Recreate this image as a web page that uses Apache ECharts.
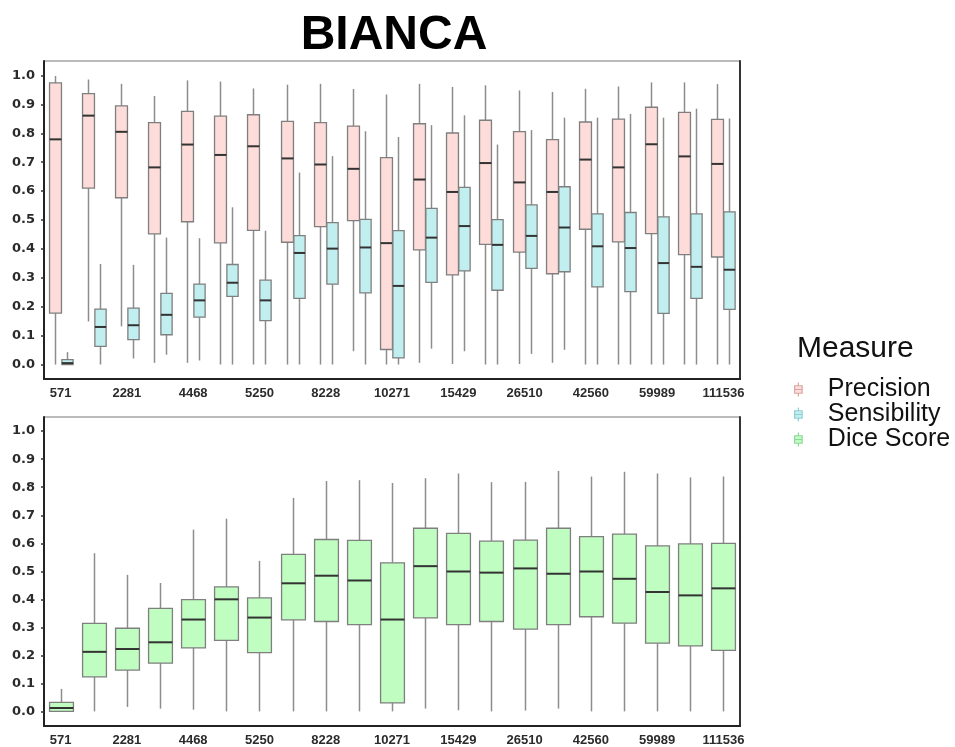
<!DOCTYPE html>
<html>
<head>
<meta charset="utf-8">
<script src="https://cdn.jsdelivr.net/npm/echarts@6/dist/echarts.min.js"></script>
<style>
  html, body { margin: 0; padding: 0; background: #ffffff; }
  #chart { width: 955px; height: 747px; }
</style>
</head>
<body>
<div id="chart"></div>
<script>
// Categories (only every other one is labelled in the reference)
const categories = ['571', '', '2281', '', '4468', '', '5250', '', '8228', '', '10271', '',
                    '15429', '', '26510', '', '42560', '', '59989', '', '111536'];
const yTicks = [0, 0.1, 0.2, 0.3, 0.4, 0.5, 0.6, 0.7, 0.8, 0.9, 1.0];

// Each entry: [lower whisker, Q1, median, Q3, upper whisker]
const precision = [
  [0.000, 0.178, 0.779, 0.974, 0.998],
  [0.149, 0.610, 0.861, 0.937, 0.986],
  [0.132, 0.577, 0.805, 0.895, 0.971],
  [0.006, 0.452, 0.682, 0.837, 0.929],
  [0.006, 0.494, 0.761, 0.876, 0.983],
  [0.000, 0.421, 0.725, 0.859, 0.979],
  [0.000, 0.464, 0.755, 0.864, 0.955],
  [0.000, 0.423, 0.713, 0.841, 0.968],
  [0.000, 0.477, 0.692, 0.837, 0.971],
  [0.046, 0.498, 0.677, 0.825, 0.953],
  [0.000, 0.052, 0.420, 0.716, 0.934],
  [0.006, 0.397, 0.640, 0.833, 0.971],
  [0.002, 0.310, 0.597, 0.801, 0.960],
  [0.000, 0.416, 0.697, 0.845, 0.966],
  [0.002, 0.389, 0.630, 0.806, 0.948],
  [0.006, 0.314, 0.597, 0.778, 0.943],
  [0.000, 0.468, 0.709, 0.839, 0.954],
  [0.000, 0.424, 0.682, 0.849, 0.962],
  [0.000, 0.453, 0.762, 0.890, 0.976],
  [0.000, 0.380, 0.720, 0.872, 0.976],
  [0.000, 0.372, 0.694, 0.848, 0.970]
];
const sensibility = [
  [0.000, 0.000, 0.005, 0.017, 0.043],
  [0.000, 0.063, 0.130, 0.192, 0.348],
  [0.021, 0.086, 0.136, 0.195, 0.345],
  [0.034, 0.103, 0.172, 0.246, 0.439],
  [0.014, 0.164, 0.222, 0.278, 0.437],
  [0.000, 0.236, 0.283, 0.346, 0.544],
  [0.000, 0.152, 0.222, 0.292, 0.463],
  [0.000, 0.229, 0.386, 0.446, 0.664],
  [0.000, 0.278, 0.401, 0.491, 0.721],
  [0.000, 0.248, 0.405, 0.502, 0.807],
  [0.000, 0.023, 0.272, 0.463, 0.787],
  [0.055, 0.284, 0.439, 0.540, 0.828],
  [0.046, 0.324, 0.479, 0.613, 0.862],
  [0.000, 0.257, 0.414, 0.501, 0.761],
  [0.037, 0.333, 0.445, 0.552, 0.811],
  [0.051, 0.321, 0.474, 0.615, 0.854],
  [0.000, 0.269, 0.409, 0.521, 0.854],
  [0.000, 0.252, 0.403, 0.526, 0.867],
  [0.000, 0.177, 0.351, 0.511, 0.854],
  [0.000, 0.229, 0.338, 0.521, 0.885],
  [0.000, 0.191, 0.328, 0.528, 0.851]
];
const dice = [
  [0.000, 0.002, 0.014, 0.034, 0.082],
  [0.002, 0.125, 0.214, 0.315, 0.565],
  [0.018, 0.149, 0.224, 0.298, 0.488],
  [0.012, 0.174, 0.248, 0.369, 0.459],
  [0.008, 0.228, 0.329, 0.400, 0.649],
  [0.002, 0.255, 0.401, 0.445, 0.688],
  [0.002, 0.211, 0.336, 0.406, 0.538],
  [0.002, 0.328, 0.458, 0.561, 0.762],
  [0.002, 0.322, 0.485, 0.614, 0.822],
  [0.002, 0.311, 0.468, 0.611, 0.825],
  [0.002, 0.032, 0.329, 0.531, 0.815],
  [0.012, 0.335, 0.519, 0.654, 0.832],
  [0.006, 0.311, 0.500, 0.636, 0.849],
  [0.002, 0.322, 0.496, 0.608, 0.818],
  [0.005, 0.295, 0.511, 0.612, 0.819],
  [0.012, 0.311, 0.492, 0.654, 0.858],
  [0.002, 0.339, 0.500, 0.624, 0.838],
  [0.002, 0.316, 0.474, 0.633, 0.855],
  [0.002, 0.245, 0.427, 0.591, 0.849],
  [0.002, 0.235, 0.415, 0.598, 0.835],
  [0.002, 0.219, 0.440, 0.600, 0.838]
];

const seriesNames = ['Precision', 'Sensibility', 'Dice Score'];
const fillColors = ['#fddcd9', '#c1eff0', '#c0fdc0'];
const legendBorders = ['#d9a6a1', '#8fcfd2', '#8fd69a'];

function withIndex(arr) {
  return arr.map(function (d, i) { return [i].concat(d); });
}

function makeRender(offsetFrac, widthFrac, fill) {
  return function (params, api) {
    const x = api.value(0);
    const lo = api.coord([x, api.value(1)]);
    const q1 = api.coord([x, api.value(2)]);
    const med = api.coord([x, api.value(3)]);
    const q3 = api.coord([x, api.value(4)]);
    const hi = api.coord([x, api.value(5)]);
    const band = api.size([1, 0])[0];
    const cx = Math.round(lo[0] + offsetFrac * band) + 0.5;
    const w = widthFrac * band;
    const whisker = { stroke: '#8c8c8c', lineWidth: 1.5 };
    return {
      type: 'group',
      children: [
        { type: 'line', shape: { x1: cx, y1: hi[1], x2: cx, y2: q3[1] }, style: whisker },
        { type: 'line', shape: { x1: cx, y1: q1[1], x2: cx, y2: lo[1] }, style: whisker },
        { type: 'rect', shape: { x: cx - w / 2, y: q3[1], width: w, height: Math.max(q1[1] - q3[1], 1) },
          style: { fill: fill, stroke: '#7f7f7f', lineWidth: 1.3 } },
        { type: 'line', shape: { x1: cx - w / 2, y1: med[1], x2: cx + w / 2, y2: med[1] },
          style: { stroke: '#333333', lineWidth: 2 } }
      ]
    };
  };
}

const xLabelFont = { fontFamily: 'Liberation Sans, Arial, sans-serif', fontWeight: 'bold', fontSize: 13, color: '#2b2b2b' };
const yLabelFont = { fontFamily: 'DejaVu Sans, Verdana, sans-serif', fontWeight: 'bold', fontSize: 13, color: '#2b2b2b' };

function xAxisFor(gridIndex) {
  return {
    type: 'category', gridIndex: gridIndex, data: categories, boundaryGap: true,
    axisLine: { onZero: false, lineStyle: { color: '#222', width: 2 } },
    axisTick: { alignWithLabel: true, length: 4, lineStyle: { color: '#333', width: 1.5 } },
    axisLabel: Object.assign({ interval: 0, margin: 8 }, xLabelFont),
    splitLine: { show: false }
  };
}
function yAxisFor(gridIndex) {
  return {
    type: 'value', gridIndex: gridIndex, min: -0.05, max: 1.05,
    axisLine: { show: true, onZero: false, lineStyle: { color: '#222', width: 2 } },
    axisTick: { show: true, customValues: yTicks, length: 3, lineStyle: { color: '#333', width: 1.5 } },
    axisLabel: Object.assign({ customValues: yTicks, margin: 9, formatter: function (v) { return v.toFixed(1); } }, yLabelFont),
    splitLine: { show: false }
  };
}
function rightAxisFor(gridIndex) {
  return {
    type: 'value', gridIndex: gridIndex, position: 'right', min: -0.05, max: 1.05,
    axisLine: { show: true, onZero: false, lineStyle: { color: '#333', width: 2 } },
    axisTick: { show: false }, axisLabel: { show: false }, splitLine: { show: false }
  };
}

const chart = echarts.init(document.getElementById('chart'), null, { renderer: 'canvas' });

const option = {
  backgroundColor: '#ffffff',
  animation: false,
  title: [
    { text: 'BIANCA', left: 389, top: 7, textAlign: 'center',
      textStyle: { fontFamily: 'Liberation Sans, Arial, sans-serif', fontWeight: 'bold', fontSize: 48, color: '#000' } },
    { text: 'Measure', left: 792, top: 329,
      textStyle: { fontFamily: 'Liberation Sans, Arial, sans-serif', fontWeight: 'normal', fontSize: 30, color: '#111' } }
  ],
  legend: {
    orient: 'vertical', left: 794, top: 377, padding: 0,
    itemWidth: 49, itemHeight: 14, itemGap: 0,
    data: seriesNames.map(function (n, i) {
      return { name: n, icon: 'path://M3.5,0 L3.5,3 M0,3 L7,3 L7,10 L0,10 Z M0,6.5 L7,6.5 M3.5,10 L3.5,13',
               itemStyle: { borderColor: legendBorders[i], borderWidth: 1.2 } };
    }),
    textStyle: { fontFamily: 'Liberation Sans, Arial, sans-serif', fontSize: 25, lineHeight: 25, color: '#111' },
    selectedMode: false
  },
  grid: [
    { left: 44, top: 61, width: 696, height: 318, show: true, borderColor: '#777', borderWidth: 1, backgroundColor: '#fff' },
    { left: 44, top: 417, width: 696, height: 312, show: true, borderColor: '#777', borderWidth: 1, backgroundColor: '#fff' }
  ],
  xAxis: [xAxisFor(0), xAxisFor(1)],
  yAxis: [yAxisFor(0), yAxisFor(1), rightAxisFor(0), rightAxisFor(1)],
  series: [
    { name: 'Precision', type: 'custom', xAxisIndex: 0, yAxisIndex: 0,
      itemStyle: { color: fillColors[0] },
      renderItem: makeRender(-0.18, 0.36, fillColors[0]),
      encode: { x: 0, y: [1, 2, 3, 4, 5] }, data: withIndex(precision) },
    { name: 'Sensibility', type: 'custom', xAxisIndex: 0, yAxisIndex: 0,
      itemStyle: { color: fillColors[1] },
      renderItem: makeRender(0.18, 0.34, fillColors[1]),
      encode: { x: 0, y: [1, 2, 3, 4, 5] }, data: withIndex(sensibility) },
    { name: 'Dice Score', type: 'custom', xAxisIndex: 1, yAxisIndex: 1,
      itemStyle: { color: fillColors[2] },
      renderItem: makeRender(0, 0.72, fillColors[2]),
      encode: { x: 0, y: [1, 2, 3, 4, 5] }, data: withIndex(dice) }
  ]
};

chart.setOption(option);
</script>
</body>
</html>
